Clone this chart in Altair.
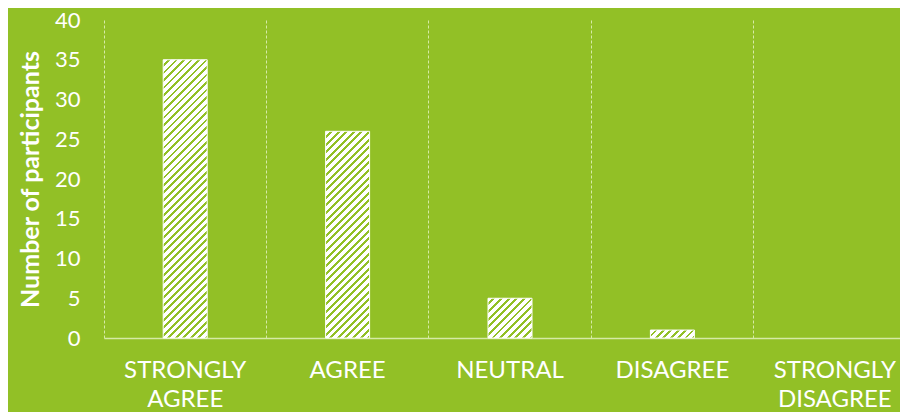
import altair as alt
import pandas as pd

categories = ["STRONGLY AGREE", "AGREE", "NEUTRAL", "DISAGREE", "STRONGLY DISAGREE"]
counts = [35, 26, 5, 1, 0]

BG = "#92C026"
PLOT_W = 796      # visible part of the plot (the last band is cropped, as in the original)
FULL_W = 812      # full width of the five category bands
PLOT_H = 318
BAR_W = 44
Y_MAX = 40


def hatch(value):
    # diagonal "///" hatch built as a hard-stop linear gradient in bbox units
    w = BAR_W
    h = max(value * PLOT_H / Y_MAX, 1)
    k = (w + h) / (w * w + h * h)
    n = max(int(round((w + h) / 7.5)), 1)
    stops = []
    for i in range(n):
        s, m, e = i / n, (i + 0.62) / n, (i + 1) / n
        stops += [
            {"offset": s, "color": "#ffffff"},
            {"offset": m, "color": "#ffffff"},
            {"offset": m, "color": BG},
            {"offset": e, "color": BG},
        ]
    return {"gradient": "linear", "x1": 0, "y1": 0, "x2": k * w, "y2": k * h, "stops": stops}


df = pd.DataFrame({"category": categories, "count": counts})

conds = [
    {"test": f"datum.category === '{c}'", "value": hatch(v)}
    for c, v in zip(categories, counts) if v > 0
]

FONT = "Lato"

chart = (
    alt.Chart(df)
    .mark_bar(width=BAR_W, stroke="white")
    .encode(
        x=alt.X(
            "category:N",
            sort=categories,
            scale=alt.Scale(paddingInner=0, paddingOuter=0, rangeMin=0, rangeMax=FULL_W),
            axis=alt.Axis(
                title=None,
                labelAngle=0,
                labelFontSize=24,
                labelFont=FONT,
                labelColor="white",
                labelPadding=20,
                labelLineHeight=29,
                labelExpr="split(datum.label, ' ')",
                ticks=False,
                domain=True,
                domainColor="#d6eaa6",
                domainWidth=1.5,
                grid=True,
                gridColor="#d6eaa6",
                gridDash=[3, 2],
                gridWidth=1,
                bandPosition=0,
            ),
        ),
        y=alt.Y(
            "count:Q",
            scale=alt.Scale(domain=[0, Y_MAX], nice=False),
            axis=alt.Axis(
                title="Number of participants",
                titleFont=FONT,
                titleFontSize=25,
                titleFontWeight="bold",
                titleColor="white",
                titleX=-74,
                titleY=PLOT_H / 2,
                titleAngle=-90,
                titleAlign="center",
                titleBaseline="middle",
                values=[0, 5, 10, 15, 20, 25, 30, 35, 40],
                labelFont=FONT,
                labelFontSize=22,
                labelColor="white",
                labelPadding=24,
                ticks=False,
                domain=False,
                grid=False,
            ),
        ),
        fill=alt.FillValue(value="#ffffff", condition=conds),
        strokeWidth=alt.condition("datum.count > 0", alt.value(1), alt.value(0)),
    )
    .properties(
        width=PLOT_W,
        height=PLOT_H,
        background=BG,
        padding={"left": 96, "top": 12, "right": 0, "bottom": 74},
        autosize=alt.AutoSizeParams(type="none"),
    )
    .configure_view(stroke=None)
)

chart.save("out.html", embed_options={"renderer": "svg", "actions": False})
